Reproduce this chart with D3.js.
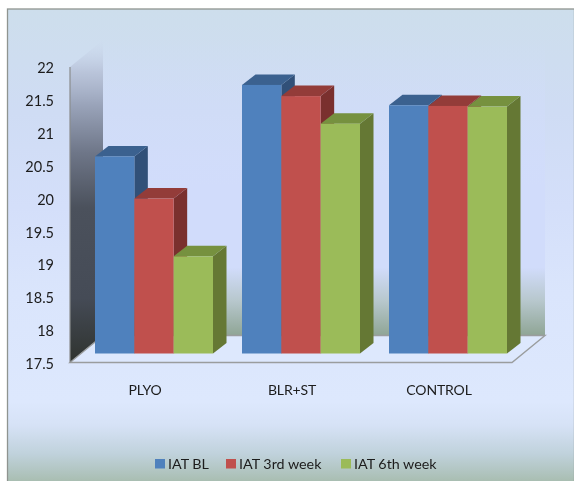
<!DOCTYPE html>
<html>
<head>
<meta charset="utf-8">
<script src="https://cdn.jsdelivr.net/npm/d3@7"></script>
<style>
html, body { margin: 0; padding: 0; background: #fff; }
svg { display: block; filter: blur(0.35px); }
text { font-family: Lato, "Open Sans", sans-serif; fill: #1c1c1c; }
</style>
</head>
<body>
<div id="chart"></div>
<script>
var categories = ["PLYO", "BLR+ST", "CONTROL"];
var seriesNames = ["IAT BL", "IAT 3rd week", "IAT 6th week"];
var iatBL = [20.5, 21.59, 21.28];
var iat3rdWeek = [19.86, 21.42, 21.27];
var iat6thWeek = [18.98, 21, 21.26];
var yTicks = [17.5, 18, 18.5, 19, 19.5, 20, 20.5, 21, 21.5, 22];

var seriesValues = [iatBL, iat3rdWeek, iat6thWeek];
var frontColors = ["#4f81bd", "#c0504d", "#9bbb59"];
var topColors = ["#3b618f", "#933c39", "#76913f"];
var sideColors = ["#315078", "#7a302e", "#657834"];

var width = 574, height = 481;
var plotLeft = 70, plotRight = 512, plotTop = 67, plotBottom = 362.5;
var wallDx = 33, wallDy = -27;   // depth of the 3d box
var barDepthX = 13.5, barDepthY = -10.5;
var barFloorGap = 9;   // bars stand a bit behind the front edge

var svg = d3.select("#chart")
    .append("svg")
    .attr("width", width)
    .attr("height", height);

var defs = svg.append("defs");

function addGradient(id, stops) {
    var g = defs.append("linearGradient")
        .attr("id", id)
        .attr("x1", 0).attr("y1", 0)
        .attr("x2", 0).attr("y2", 1);
    stops.forEach(function (s) {
        g.append("stop")
            .attr("offset", s[0])
            .attr("stop-color", s[1])
            .attr("stop-opacity", s[2] === undefined ? 1 : s[2]);
    });
}

addGradient("bgGrad", [
    [0, "#cddeec"],
    [0.22, "#cfdcf4"],
    [0.42, "#d4dffa"],
    [0.6, "#dae5fc"],
    [0.83, "#dde8fd"],
    [0.88, "#d6e2f6"],
    [0.94, "#c0d2dc"],
    [1, "#a8bdb0"]
]);
addGradient("wallGrad", [
    [0, "#d1dcfb", 0],
    [0.35, "#d1dcfb", 0.6],
    [0.5, "#d1dcfb", 1],
    [0.77, "#d1dcfb", 1],
    [0.88, "#b8c8ce"],
    [1, "#8fa595"]
]);
addGradient("sideWallGrad", [
    [0, "#c9d4ea", 0],
    [0.1, "#b4bed4", 0.8],
    [0.2, "#9aa4ba"],
    [0.35, "#6e7688"],
    [0.52, "#4b515c"],
    [0.8, "#454b56"],
    [1, "#2f332f"]
]);

// background panel
svg.append("rect")
    .attr("x", 7.5)
    .attr("y", 9)
    .attr("width", width - 7)
    .attr("height", height - 8)
    .attr("fill", "url(#bgGrad)")
    .attr("stroke", "#8f9490")
    .attr("stroke-width", 1.3);

var y = d3.scaleLinear()
    .domain([17.5, 22])
    .range([plotBottom, plotTop]);

var x0 = d3.scaleBand()
    .domain(categories)
    .range([plotLeft + 10.5, plotRight + 9.5]);

var x1 = d3.scaleBand()
    .domain(seriesNames)
    .range([14.5, 132.5]);

var barBase = plotBottom - barFloorGap;

function pts(list) {
    return list.map(function (p) { return p.join(","); }).join(" ");
}

// back wall
svg.append("rect")
    .attr("x", plotLeft + wallDx)
    .attr("y", plotTop + wallDy)
    .attr("width", plotRight - plotLeft)
    .attr("height", plotBottom - plotTop)
    .attr("fill", "url(#wallGrad)");

// left wall
svg.append("polygon")
    .attr("points", pts([
        [plotLeft, plotTop],
        [plotLeft + wallDx, plotTop + wallDy],
        [plotLeft + wallDx, plotBottom + wallDy],
        [plotLeft, plotBottom]
    ]))
    .attr("fill", "url(#sideWallGrad)");

// floor
svg.append("polygon")
    .attr("points", pts([
        [plotLeft, plotBottom],
        [plotRight, plotBottom],
        [plotRight + wallDx, plotBottom + wallDy],
        [plotLeft + wallDx, plotBottom + wallDy]
    ]))
    .attr("fill", "#dde8fd")
    .attr("stroke", "#9a9d9e")
    .attr("stroke-width", 1.4);

svg.append("line")
    .attr("x1", plotLeft).attr("x2", plotLeft)
    .attr("y1", plotTop).attr("y2", plotBottom)
    .attr("stroke", "#8a8d8e")
    .attr("stroke-width", 1.2);

// Add the bars, left to right so each one covers the side of the previous
categories.forEach(function (cat, c) {
    var group = svg.append("g")
        .attr("transform", "translate(" + x0(cat) + ",0)");

    seriesNames.forEach(function (name, s) {
        var left = x1(name);
        var right = left + x1.bandwidth();
        var top = barBase - (plotBottom - y(seriesValues[s][c]));

        group.append("polygon")
            .attr("points", pts([
                [right, top],
                [right + barDepthX, top + barDepthY],
                [right + barDepthX, barBase + barDepthY],
                [right, barBase]
            ]))
            .attr("fill", sideColors[s]);

        group.append("polygon")
            .attr("points", pts([
                [left, top],
                [left + barDepthX, top + barDepthY],
                [right + barDepthX, top + barDepthY],
                [right, top]
            ]))
            .attr("fill", topColors[s]);

        group.append("rect")
            .attr("x", left)
            .attr("y", top)
            .attr("width", x1.bandwidth())
            .attr("height", barBase - top)
            .attr("fill", frontColors[s]);
    });
});

// axes
var yAxis = svg.append("g")
    .attr("transform", "translate(" + (plotLeft - 16) + ",1.2)")
    .call(d3.axisLeft(y).tickValues(yTicks).tickSize(0).tickPadding(0).tickFormat(d3.format("")));
yAxis.select(".domain").remove();
yAxis.selectAll("text")
    .style("font-family", 'Lato, "Open Sans", sans-serif')
    .style("font-size", "14.5px")
    .style("fill", "#1c1c1c");

var xAxis = svg.append("g")
    .attr("transform", "translate(-9,390)")
    .call(d3.axisBottom(x0).tickSize(0).tickPadding(0));
xAxis.select(".domain").remove();
xAxis.selectAll("text")
    .attr("y", 0)
    .attr("dy", "0.35em")
    .style("font-family", 'Lato, "Open Sans", sans-serif')
    .style("font-size", "14px")
    .style("letter-spacing", "-0.15px")
    .style("fill", "#1c1c1c");

// legend
var legendX = [155, 226, 341];
seriesNames.forEach(function (name, s) {
    svg.append("rect")
        .attr("x", legendX[s])
        .attr("y", 459)
        .attr("width", 10)
        .attr("height", 9.5)
        .attr("fill", frontColors[s]);
    svg.append("text")
        .attr("x", legendX[s] + 13)
        .attr("y", 468.5)
        .style("font-size", "14.3px")
        .text(name);
});
</script>
</body>
</html>
